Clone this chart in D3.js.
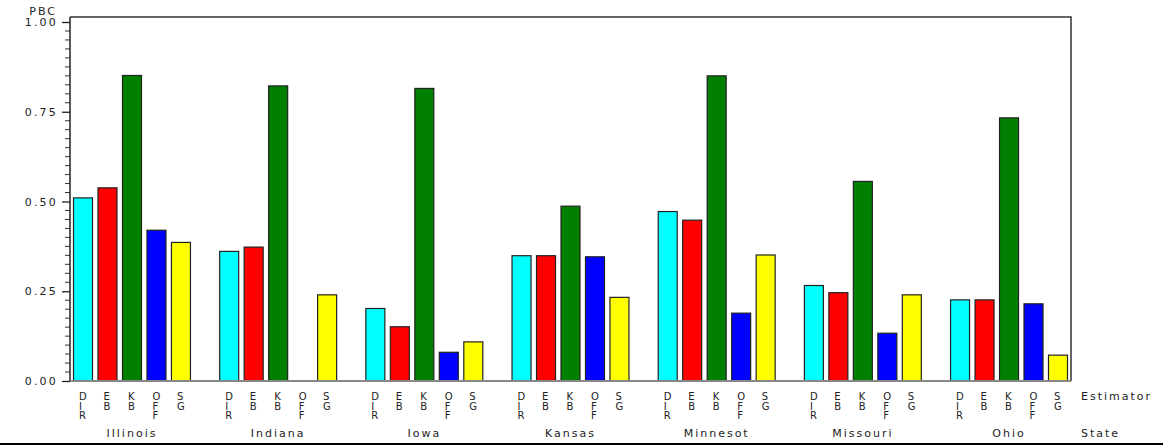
<!DOCTYPE html>
<html>
<head>
<meta charset="utf-8">
<script src="https://cdn.jsdelivr.net/npm/d3@7"></script>
<style>
  body { margin: 0; background: #fff; }
  text { font-family: "DejaVu Sans", sans-serif; fill: #222; }
</style>
</head>
<body>
<div class="svg-container"></div>
<script>
// data
const states = ['Illinois', 'Indiana', 'Iowa', 'Kansas', 'Minnesot', 'Missouri', 'Ohio'];
const estimators = ['DIR', 'EB', 'KB', 'OFF', 'SG'];
const dirValues = [0.510, 0.361, 0.202, 0.349, 0.472, 0.266, 0.226];
const ebValues  = [0.538, 0.373, 0.151, 0.349, 0.448, 0.246, 0.226];
const kbValues  = [0.851, 0.822, 0.815, 0.487, 0.850, 0.556, 0.733];
const offValues = [0.420, null,  0.080, 0.346, 0.189, 0.133, 0.215];
const sgValues  = [0.386, 0.240, 0.109, 0.233, 0.351, 0.240, 0.072];
const yTicks = [0, 0.25, 0.5, 0.75, 1];

const colors = { DIR: '#00ffff', EB: '#ff0000', KB: '#007f00', OFF: '#0000ff', SG: '#ffff00' };

const width = 1169, height = 447;
const plot = { left: 70, right: 1071, top: 17, bottom: 381 };

// build rows
const series = [dirValues, ebValues, kbValues, offValues, sgValues];
const rows = [];
states.forEach((st, i) => {
    estimators.forEach((est, j) => {
        rows.push({ state: st, est: est, value: series[j][i] });
    });
});

const svg = d3.select('.svg-container')
    .append('svg')
    .attr('width', width)
    .attr('height', height);

const x0 = d3.scaleBand()
    .domain(states)
    .range([plot.left, plot.right])
    .paddingInner(0.2)
    .paddingOuter(0.024);

const x1 = d3.scaleBand()
    .domain(estimators)
    .range([0, x0.bandwidth()])
    .paddingInner(0.224)
    .paddingOuter(0);

const y = d3.scaleLinear()
    .domain([0, 1])
    .range([plot.bottom, plot.top + 5]);

// frame: top and right
svg.append('path')
    .attr('d', `M${plot.left},${plot.top}H${plot.right}V${plot.bottom}`)
    .attr('fill', 'none')
    .attr('stroke', '#333')
    .attr('stroke-width', 1.5);

// minor ticks
const minor = d3.range(0, 1.0001, 0.025).filter(v => Math.abs(v * 4 - Math.round(v * 4)) > 1e-6);
svg.selectAll('.minor')
    .data(minor)
    .join('line')
    .attr('class', 'minor')
    .attr('x1', plot.left - 5).attr('x2', plot.left)
    .attr('y1', d => y(d)).attr('y2', d => y(d))
    .attr('stroke', '#333')
    .attr('stroke-width', 1);

// y axis
const yAxis = d3.axisLeft(y)
    .tickValues(yTicks)
    .tickFormat(d3.format('.2f'))
    .tickSize(8)
    .tickPadding(4);

svg.append('g')
    .attr('class', 'y-axis')
    .attr('transform', `translate(${plot.left},0)`)
    .call(yAxis)
    .call(g => g.select('.domain').attr('stroke', '#222').attr('stroke-width', 1.5)
        .attr('d', `M0,${plot.top}V${plot.bottom}`))
    .call(g => g.selectAll('.tick line').attr('stroke', '#222').attr('stroke-width', 1.3))
    .call(g => g.selectAll('.tick text')
        .attr('font-family', '"DejaVu Sans", sans-serif')
        .attr('font-size', 11)
        .attr('letter-spacing', 2.2)
        .attr('fill', '#222'));

// y label
svg.append('text')
    .attr('x', 57)
    .attr('y', 15)
    .attr('text-anchor', 'end')
    .attr('font-size', 11)
    .attr('letter-spacing', 2)
    .text('PBC');

// bars
svg.selectAll('.bar')
    .data(rows.filter(d => d.value != null))
    .join('rect')
    .attr('class', 'bar')
    .attr('x', d => x0(d.state) + x1(d.est))
    .attr('y', d => y(d.value))
    .attr('width', x1.bandwidth())
    .attr('height', d => y(0) - y(d.value))
    .attr('fill', d => colors[d.est])
    .attr('stroke', '#222')
    .attr('stroke-width', 1.2);

// bottom axis line
svg.append('line')
    .attr('x1', plot.left).attr('x2', plot.right)
    .attr('y1', plot.bottom).attr('y2', plot.bottom)
    .attr('stroke', '#888')
    .attr('stroke-width', 2);

// estimator labels, one letter per line, left aligned
const letters = [];
rows.forEach(d => {
    d.est.split('').forEach((ch, k) => {
        letters.push({ ch: ch, k: k, cx: x0(d.state) + x1(d.est) + x1.bandwidth() / 2 });
    });
});

svg.selectAll('.est-letter')
    .data(letters)
    .join('text')
    .attr('class', 'est-letter')
    .attr('x', d => d.cx - 4)
    .attr('y', d => 400 + d.k * 9.5)
    .attr('font-size', 10)
    .attr('fill', '#333')
    .text(d => d.ch);

// state labels
svg.selectAll('.state-label')
    .data(states)
    .join('text')
    .attr('class', 'state-label')
    .attr('x', d => x0(d) + x0.bandwidth() / 2)
    .attr('y', 437)
    .attr('text-anchor', 'middle')
    .attr('font-size', 11)
    .attr('letter-spacing', 2)
    .text(d => d);

svg.append('text')
    .attr('x', 1081)
    .attr('y', 400)
    .attr('font-size', 11)
    .attr('letter-spacing', 2)
    .text('Estimator');

svg.append('text')
    .attr('x', 1081)
    .attr('y', 437)
    .attr('font-size', 11)
    .attr('letter-spacing', 2)
    .text('State');

// bottom rule
svg.append('line')
    .attr('x1', 0).attr('x2', 1163)
    .attr('y1', 444).attr('y2', 444)
    .attr('stroke', '#000')
    .attr('stroke-width', 2);
</script>
</body>
</html>
